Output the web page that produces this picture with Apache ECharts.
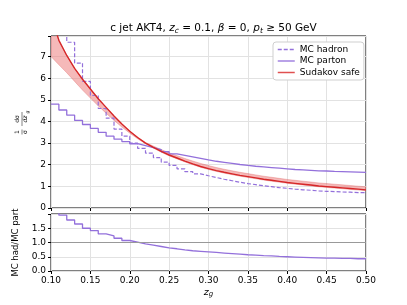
<!DOCTYPE html>
<html><head><meta charset="utf-8">
<script src="https://cdn.jsdelivr.net/npm/echarts@6/dist/echarts.min.js"></script>
<style>html,body{margin:0;padding:0;background:#fff}#c{width:407px;height:305px}</style>
</head><body><div id="c"></div>
<script>
// histogram bin left edges (width 0.01) and final edge
const binEdges = [0.10,0.11,0.12,0.13,0.14,0.15,0.16,0.17,0.18,0.19,0.20,0.21,0.22,0.23,0.24,0.25,0.26,0.27,0.28,0.29,0.30,0.31,0.32,0.33,0.34,0.35,0.36,0.37,0.38,0.39,0.40,0.41,0.42,0.43,0.44,0.45,0.46,0.47,0.48,0.49,0.50];
const mcHadron = [10.5,8.9,7.66,6.7,5.85,5.2,4.6,4.15,3.65,3.32,3.0,2.76,2.54,2.33,2.12,1.97,1.81,1.68,1.58,1.49,1.41,1.33,1.26,1.19,1.13,1.08,1.03,0.99,0.94,0.91,0.87,0.84,0.82,0.79,0.77,0.76,0.74,0.73,0.71,0.71];
const mcParton = [4.80,4.53,4.29,4.05,3.86,3.68,3.50,3.32,3.18,3.07,2.97,2.88,2.79,2.70,2.60,2.50,2.43,2.36,2.29,2.22,2.16,2.11,2.06,2.01,1.97,1.93,1.90,1.87,1.84,1.81,1.78,1.76,1.74,1.72,1.71,1.69,1.68,1.67,1.66,1.65];
const ratio = [2.19,1.96,1.79,1.65,1.50,1.42,1.30,1.23,1.15,1.07,1.01,0.95,0.91,0.86,0.81,0.78,0.74,0.71,0.69,0.67,0.65,0.63,0.61,0.59,0.57,0.56,0.54,0.53,0.51,0.50,0.49,0.48,0.47,0.46,0.45,0.45,0.44,0.44,0.43,0.43];
// Sudakov safe prediction: central curve and band
const sudZ = binEdges;
const sudCentral = [8.9,7.75,7.05,6.45,5.95,5.5,5.05,4.65,4.25,3.88,3.55,3.26,3.0,2.8,2.62,2.45,2.31,2.17,2.04,1.92,1.82,1.73,1.65,1.58,1.51,1.45,1.39,1.33,1.28,1.23,1.18,1.14,1.10,1.06,1.02,0.99,0.96,0.93,0.90,0.87,0.84];
const sudLow = [7.0,6.62,6.25,5.85,5.45,5.08,4.72,4.38,4.05,3.74,3.46,3.20,2.97,2.77,2.58,2.41,2.27,2.13,2.0,1.88,1.78,1.69,1.61,1.54,1.47,1.41,1.35,1.29,1.24,1.19,1.14,1.10,1.06,1.02,0.98,0.95,0.92,0.89,0.86,0.83,0.80];
const sudHigh = [8.9,7.75,7.05,6.45,5.95,5.5,5.05,4.65,4.25,3.88,3.55,3.27,3.03,2.86,2.70,2.55,2.42,2.29,2.17,2.06,1.96,1.87,1.79,1.72,1.65,1.59,1.53,1.47,1.42,1.37,1.32,1.28,1.24,1.20,1.16,1.13,1.10,1.07,1.04,1.01,0.98];

function stepData(vals){
  return binEdges.map((e,i)=>[e, vals[Math.min(i, vals.length-1)]]);
}
const PURPLE = '#9370db', RED = '#d62728', FONT = 'DejaVu Sans';
const chart = echarts.init(document.getElementById('c'), null, {renderer:'canvas'});
const gridLine = {show:true, lineStyle:{color:'#e2e2e2', width:1}};
const axLabel = {color:'#000', fontSize:9, fontFamily:FONT};
chart.setOption({
  animation:false,
  textStyle:{fontFamily:FONT},
  title:{
    left:208.5, top:17, textAlign:'center',
    text:'{n|c jet AKT4, }{i|z}{s|c}{n| = 0.1, }{i|β}{n| = 0, }{i|p}{s|t}{n| ≥ 50 GeV}',
    textStyle:{fontWeight:'normal', rich:{
      n:{fontSize:10.5, color:'#000', fontFamily:FONT, fontWeight:'normal'},
      i:{fontSize:10.5, color:'#000', fontFamily:FONT, fontStyle:'italic', fontWeight:'normal'},
      s:{fontSize:7.5, color:'#000', fontFamily:FONT, fontStyle:'italic', fontWeight:'normal', padding:[5,0,0,0]}
    }}
  },
  legend:{
    orient:'vertical', left:273, top:42, itemGap:2.5, itemWidth:17, itemHeight:10,
    backgroundColor:'#fff', borderColor:'#cfcfcf', borderWidth:1, borderRadius:3, padding:[3,4,3,4],
    textStyle:{color:'#000', fontSize:9, fontFamily:FONT},
    itemStyle:{opacity:0},
    data:[
      {name:'MC hadron', lineStyle:{type:[4,2], color:PURPLE, width:1.3}},
      {name:'MC parton', lineStyle:{color:PURPLE, width:1.3}},
      {name:'Sudakov safe', lineStyle:{color:'#e05050', width:1.5}}
    ]
  },
  grid:[
    {left:51, right:41, top:36, height:172, show:true, borderColor:'#000', borderWidth:1},
    {left:51, right:41, top:214, height:57, show:true, borderColor:'#000', borderWidth:1}
  ],
  xAxis:[
    {type:'value', gridIndex:0, min:0.1, max:0.5, interval:0.05,
     axisLine:{show:false}, axisTick:{show:true, length:3, lineStyle:{color:'#000'}},
     axisLabel:{show:false}, splitLine:gridLine},
    {type:'value', gridIndex:1, min:0.1, max:0.5, interval:0.05,
     axisLine:{show:false}, axisTick:{show:true, length:3, lineStyle:{color:'#000'}},
     axisLabel:Object.assign({formatter:v=>v.toFixed(2), margin:5}, axLabel),
     splitLine:gridLine,
     name:'{i|z}{s|g}', nameLocation:'middle', nameGap:16,
     nameTextStyle:{rich:{
       i:{fontSize:9.5, color:'#000', fontStyle:'italic', fontFamily:FONT},
       s:{fontSize:7, color:'#000', fontStyle:'italic', fontFamily:FONT, padding:[4,0,0,0]}}}}
  ],
  yAxis:[
    {type:'value', gridIndex:0, min:0, max:7.95, interval:1,
     axisLine:{show:false}, axisTick:{show:true, length:3, lineStyle:{color:'#000'}},
     axisLabel:Object.assign({formatter:v=>(Math.abs(v-Math.round(v))<1e-6 && v<7.9)?String(Math.round(v)):'', margin:5}, axLabel),
     splitLine:gridLine},
    {type:'value', gridIndex:1, min:0, max:2, interval:0.5,
     axisLine:{show:false}, axisTick:{show:true, length:3, lineStyle:{color:'#000'}},
     axisLabel:Object.assign({formatter:v=>v>1.9?'':v.toFixed(1), margin:5}, axLabel),
     splitLine:gridLine,
     name:'MC had/MC part', nameLocation:'middle', nameGap:25, nameRotate:90,
     nameTextStyle:{color:'#000', fontSize:8.5, fontFamily:FONT}}
  ],
  graphic:[{
    type:'group', x:22, y:121, rotation:Math.PI/2,
    children:[
      {type:'text', x:-11, y:-7.5, style:{text:'1', fontSize:6, fill:'#000', fontFamily:FONT, textAlign:'center'}},
      {type:'line', shape:{x1:-13.5, y1:0, x2:-8.5, y2:0}, style:{stroke:'#000', lineWidth:0.5}},
      {type:'text', x:-11, y:0.5, style:{text:'σ', fontSize:6, fill:'#000', fontFamily:FONT, textAlign:'center'}},
      {type:'text', x:2, y:-7.5, style:{text:'dσ', fontSize:6, fill:'#000', fontFamily:FONT, textAlign:'center'}},
      {type:'line', shape:{x1:-5, y1:0, x2:9, y2:0}, style:{stroke:'#000', lineWidth:0.5}},
      {type:'text', x:2, y:0.5, style:{text:'dz', fontSize:6, fill:'#000', fontFamily:FONT, fontStyle:'italic', textAlign:'center'}},
      {type:'text', x:7.5, y:3.5, style:{text:'g', fontSize:4.5, fill:'#000', fontFamily:FONT, fontStyle:'italic'}}
    ]
  }],
  series:[
    {name:'band', type:'custom', xAxisIndex:0, yAxisIndex:0, z:1,
     data:[[0.3,2]], encode:{x:0,y:1}, silent:true,
     renderItem:(params, api)=>{
       const pts=[];
       for(let i=0;i<sudZ.length;i++) pts.push(api.coord([sudZ[i], sudHigh[i]]));
       for(let i=sudZ.length-1;i>=0;i--) pts.push(api.coord([sudZ[i], sudLow[i]]));
       const cs = params.coordSys;
       return {type:'polygon', shape:{points:pts},
         style:{fill:'rgba(236,128,128,0.55)', stroke:'rgba(214,60,60,0.45)', lineWidth:0.6},
         clipPath:{type:'rect', shape:{x:cs.x, y:cs.y, width:cs.width, height:cs.height}}};
     }},
    {name:'MC hadron', type:'line', xAxisIndex:0, yAxisIndex:0, step:'end', showSymbol:false, symbol:'none', clip:true, z:3,
     data:stepData(mcHadron), lineStyle:{color:PURPLE, width:1.2, type:[4,2]}, itemStyle:{color:PURPLE}},
    {name:'MC parton', type:'line', xAxisIndex:0, yAxisIndex:0, step:'end', showSymbol:false, symbol:'none', clip:true, z:3,
     data:stepData(mcParton), lineStyle:{color:PURPLE, width:1.3}, itemStyle:{color:PURPLE}},
    {name:'Sudakov safe', type:'line', xAxisIndex:0, yAxisIndex:0, showSymbol:false, symbol:'none', clip:true, z:4,
     data:sudZ.map((z,i)=>[z, sudCentral[i]]), lineStyle:{color:RED, width:1.4}, itemStyle:{color:RED}},
    {name:'ratio', type:'line', xAxisIndex:1, yAxisIndex:1, step:'end', showSymbol:false, symbol:'none', clip:true, z:3,
     data:stepData(ratio), lineStyle:{color:PURPLE, width:1.3}, itemStyle:{color:PURPLE},
     markLine:{silent:true, symbol:'none', label:{show:false}, lineStyle:{color:'#999', width:1, type:'solid'}, data:[{yAxis:1}]}}
  ]
});
</script></body></html>
